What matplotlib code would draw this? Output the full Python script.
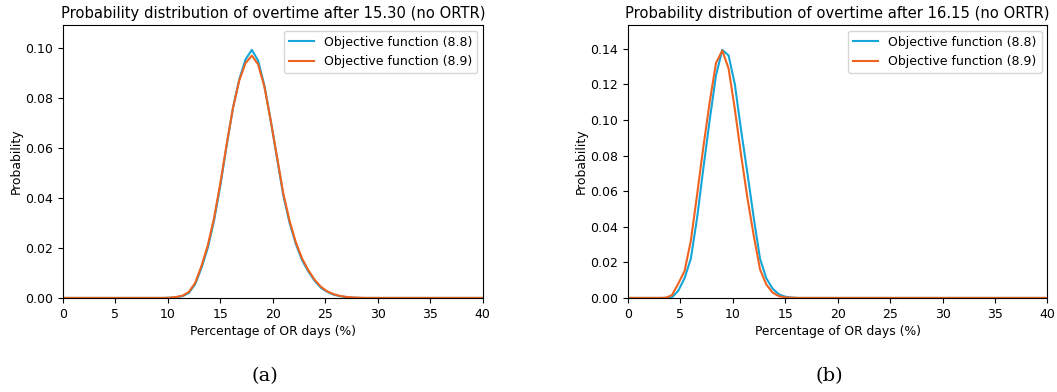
import numpy as np
import matplotlib
matplotlib.use("Agg")
import matplotlib.pyplot as plt

# percentage of OR days, step of 0.6 %
pct_days = np.round(np.arange(68) * 0.6, 1)

# overtime after 15.30 (panel a)
prob_a_88 = [
    0.0, 0.0, 0.0, 0.0, 0.0, 0.0, 0.0, 0.0, 0.0, 0.0,
    0.0, 0.0, 0.0, 0.0, 0.0, 0.0, 0.0, 0.0001, 0.0003, 0.0007,
    0.0020, 0.0055, 0.0120, 0.0200, 0.0310, 0.0450, 0.0610, 0.0760, 0.0875, 0.0955,
    0.0993, 0.0950, 0.0850, 0.0710, 0.0560, 0.0410, 0.0300, 0.0215, 0.0150, 0.0105,
    0.0068, 0.0040, 0.0024, 0.0013, 0.0007, 0.0003, 0.0001, 0.0, 0.0, 0.0,
    0.0, 0.0, 0.0, 0.0, 0.0, 0.0, 0.0, 0.0, 0.0, 0.0,
    0.0, 0.0, 0.0, 0.0, 0.0, 0.0, 0.0, 0.0,
]
prob_a_89 = [
    0.0, 0.0, 0.0, 0.0, 0.0, 0.0, 0.0, 0.0, 0.0, 0.0,
    0.0, 0.0, 0.0, 0.0, 0.0, 0.0, 0.0, 0.0001, 0.0004, 0.0009,
    0.0024, 0.0060, 0.0128, 0.0210, 0.0320, 0.0460, 0.0615, 0.0760, 0.0870, 0.0940,
    0.0970, 0.0935, 0.0845, 0.0710, 0.0565, 0.0418, 0.0308, 0.0222, 0.0157, 0.0110,
    0.0072, 0.0044, 0.0026, 0.0015, 0.0008, 0.0004, 0.0002, 0.0001, 0.0, 0.0,
    0.0, 0.0, 0.0, 0.0, 0.0, 0.0, 0.0, 0.0, 0.0, 0.0,
    0.0, 0.0, 0.0, 0.0, 0.0, 0.0, 0.0, 0.0,
]

# overtime after 16.15 (panel b)
prob_b_88 = [
    0.0, 0.0, 0.0, 0.0, 0.0, 0.0, 0.0, 0.0003, 0.0040, 0.0110,
    0.0220, 0.0450, 0.0730, 0.1000, 0.1250, 0.1394, 0.1363, 0.1200, 0.0940, 0.0700,
    0.0450, 0.0220, 0.0110, 0.0052, 0.0020, 0.0007, 0.0002, 0.0, 0.0, 0.0,
    0.0, 0.0, 0.0, 0.0, 0.0, 0.0, 0.0, 0.0, 0.0, 0.0,
    0.0, 0.0, 0.0, 0.0, 0.0, 0.0, 0.0, 0.0, 0.0, 0.0,
    0.0, 0.0, 0.0, 0.0, 0.0, 0.0, 0.0, 0.0, 0.0, 0.0,
    0.0, 0.0, 0.0, 0.0, 0.0, 0.0, 0.0, 0.0,
]
prob_b_89 = [
    0.0, 0.0, 0.0, 0.0, 0.0, 0.0, 0.0001, 0.0015, 0.0080, 0.0150,
    0.0320, 0.0580, 0.0850, 0.1100, 0.1320, 0.1390, 0.1290, 0.1060, 0.0800, 0.0560,
    0.0350, 0.0160, 0.0075, 0.0030, 0.0010, 0.0003, 0.0001, 0.0, 0.0, 0.0,
    0.0, 0.0, 0.0, 0.0, 0.0, 0.0, 0.0, 0.0, 0.0, 0.0,
    0.0, 0.0, 0.0, 0.0, 0.0, 0.0, 0.0, 0.0, 0.0, 0.0,
    0.0, 0.0, 0.0, 0.0, 0.0, 0.0, 0.0, 0.0, 0.0, 0.0,
    0.0, 0.0, 0.0, 0.0, 0.0, 0.0, 0.0, 0.0,
]

titles = ["Probability distribution of overtime after 15.30 (no ORTR)",
          "Probability distribution of overtime after 16.15 (no ORTR)"]
captions = ["(a)", "(b)"]
labels = ["Objective function (8.8)", "Objective function (8.9)"]
blue = "#14a5d9"
orange = "#f0631f"

fig = plt.figure(figsize=(10.57, 3.92), dpi=100)
ax_a = fig.add_axes([0.0596, 0.240, 0.397, 0.696])
ax_b = fig.add_axes([0.594, 0.240, 0.397, 0.696])

panels = [(ax_a, prob_a_88, prob_a_89), (ax_b, prob_b_88, prob_b_89)]
for i, (ax, p88, p89) in enumerate(panels):
    ax.plot(pct_days, p88, color=blue, lw=1.5, label=labels[0])
    ax.plot(pct_days, p89, color=orange, lw=1.5, label=labels[1])
    ax.set_xlim(0, 40)
    ax.set_ylim(0, 1.1 * max(max(p88), max(p89)))
    ax.set_title(titles[i], fontsize=10.6, pad=5)
    ax.set_xlabel("Percentage of OR days (%)", fontsize=8.9, labelpad=3)
    ax.set_ylabel("Probability", fontsize=8.9, labelpad=2)
    ax.tick_params(labelsize=9)
    ax.legend(loc="upper right", fontsize=9.0, borderaxespad=0.45)
    ax.text(0.48, -0.285, captions[i], transform=ax.transAxes, ha="center", va="center",
            fontsize=14, family="DejaVu Serif")

fig.savefig("out.png", dpi=100)
